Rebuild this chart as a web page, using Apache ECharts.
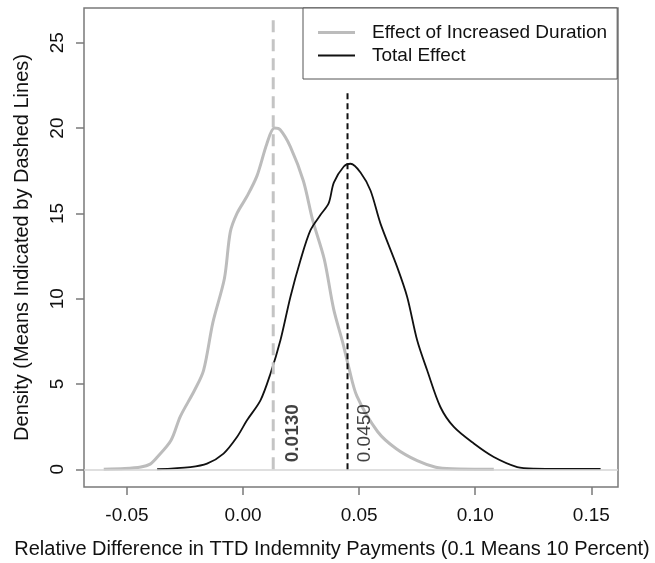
<!DOCTYPE html>
<html>
<head>
<meta charset="utf-8">
<title>Density of relative difference</title>
<script src="https://cdn.jsdelivr.net/npm/echarts@6/dist/echarts.min.js"></script>
<style>
  html, body { margin: 0; padding: 0; background: #fff; }
  #chart { width: 655px; height: 563px; }
</style>
</head>
<body>
<div id="chart"></div>
<script>
// Effect of Increased Duration (grey curve)
const durationX = [-0.060, -0.051, -0.044, -0.040, -0.037, -0.031, -0.027, -0.021, -0.017, -0.013,
  -0.008, -0.0055, -0.0026, 0.0017, 0.006, 0.0103, 0.0135, 0.016, 0.0204, 0.026,
  0.030, 0.035, 0.039, 0.043, 0.0455, 0.049, 0.058, 0.066, 0.075, 0.083, 0.090, 0.108];
const durationY = [0.00, 0.04, 0.13, 0.30, 0.70, 1.70, 3.1, 4.6, 5.8, 8.6,
  11.2, 13.9, 15.0, 16.0, 17.2, 19.1, 20.0, 19.9, 18.9, 16.9,
  14.6, 12.3, 9.4, 7.4, 6.0, 4.3, 2.2, 1.2, 0.5, 0.12, 0.03, 0.0];

// Total Effect (black curve)
const totalX = [-0.037, -0.0227, -0.0155, -0.0084, -0.0026, 0.0017, 0.0075, 0.0118, 0.0161, 0.0204,
  0.0247, 0.029, 0.0333, 0.0369, 0.0391, 0.0434, 0.0463, 0.0506, 0.0549, 0.0592,
  0.0664, 0.0707, 0.075, 0.0793, 0.085, 0.0908, 0.0994, 0.108, 0.1181, 0.1253, 0.154];
const totalY = [0.0, 0.13, 0.33, 0.92, 1.89, 2.87, 4.04, 5.6, 7.56, 10.1,
  12.24, 14.0, 14.9, 15.6, 16.8, 17.75, 17.91, 17.4, 16.34, 14.4,
  11.85, 10.1, 7.56, 5.8, 3.65, 2.48, 1.51, 0.72, 0.13, 0.04, 0.02];

// means, shown as dashed lines
const meanDuration = 0.0130;
const meanTotal = 0.0450;
const meanLabels = ['0.0130', '0.0450'];

const xTicks = [-0.05, 0, 0.05, 0.10, 0.15];
const yTicks = [0, 5, 10, 15, 20, 25];

const font = "'Liberation Sans', Arial, Helvetica, sans-serif";
const zip = (xs, ys) => xs.map((x, i) => [x, ys[i]]);

const chart = echarts.init(document.getElementById('chart'));

const option = {
  animation: false,
  backgroundColor: '#fff',
  textStyle: { fontFamily: font },
  grid: {
    left: 84, top: 8, right: 37, bottom: 76,
    show: true,
    borderColor: '#7a7a7a',
    borderWidth: 1.5,
    containLabel: false,
    outerBoundsMode: 'none'
  },
  legend: {
    orient: 'vertical',
    left: 303, top: 8,
    padding: [15, 10, 14, 15],
    itemWidth: 37, itemHeight: 18, itemGap: 4,
    borderColor: '#555', borderWidth: 1,
    backgroundColor: '#fff',
    textStyle: { fontSize: 19, color: '#111', fontFamily: font, padding: [0, 0, 0, 12] },
    data: [
      { name: 'Effect of Increased Duration', icon: 'path://M0,0 H37 V3 H0 Z' },
      { name: 'Total Effect', icon: 'path://M0,0 H37 V2 H0 Z' }
    ]
  },
  xAxis: {
    type: 'value',
    min: -0.0685, max: 0.1615,
    name: 'Relative Difference in TTD Indemnity Payments (0.1 Means 10 Percent)',
    nameLocation: 'middle', nameGap: 52,
    // the title sits a little left of the plot's centre
    nameTextStyle: { fontSize: 20, color: '#111', padding: [0, 38, 0, 0] },
    axisLine: { show: false, onZero: false },
    splitLine: { show: false },
    axisTick: { show: true, length: 8, customValues: xTicks, lineStyle: { color: '#7a7a7a', width: 1.5 } },
    axisLabel: {
      customValues: xTicks, fontSize: 19, color: '#111', margin: 19,
      formatter: v => v.toFixed(2)
    }
  },
  yAxis: {
    type: 'value',
    min: -1.04, max: 27.04,
    name: 'Density (Means Indicated by Dashed Lines)',
    nameLocation: 'middle', nameGap: 52, nameRotate: 90,
    nameTextStyle: { fontSize: 20, color: '#111' },
    axisLine: { show: false, onZero: false },
    splitLine: { show: false },
    axisTick: { show: true, length: 8, customValues: yTicks, lineStyle: { color: '#7a7a7a', width: 1.5 } },
    axisLabel: { customValues: yTicks, fontSize: 19, color: '#111', margin: 17, rotate: 90 }
  },
  series: [
    {
      name: 'Effect of Increased Duration',
      type: 'line',
      data: zip(durationX, durationY),
      smooth: 0.3,
      symbol: 'none',
      z: 3,
      lineStyle: { color: '#bcbcbc', width: 3 },
      itemStyle: { color: '#bcbcbc' },
      markLine: {
        silent: true,
        symbol: 'none',
        label: { show: false },
        lineStyle: { color: '#d4d4d4', width: 1.5, type: 'solid' },
        data: [{ yAxis: 0 }]
      }
    },
    {
      name: 'Total Effect',
      type: 'line',
      data: zip(totalX, totalY),
      smooth: 0.3,
      symbol: 'none',
      z: 4,
      lineStyle: { color: '#111', width: 1.8 },
      itemStyle: { color: '#111' }
    },
    {
      name: 'mean duration',
      type: 'line',
      data: [[meanDuration, 0], [meanDuration, 26.7]],
      symbol: 'none',
      z: 5,
      lineStyle: { color: '#c4c4c4', width: 3, type: [12, 7] }
    },
    {
      name: 'mean total',
      type: 'line',
      data: [[meanTotal, 0], [meanTotal, 22.1]],
      symbol: 'none',
      z: 5,
      lineStyle: { color: '#111', width: 2, type: [6, 4] }
    },
    {
      name: 'mean labels',
      type: 'scatter',
      symbolSize: 0,
      z: 6,
      data: [
        { value: [meanDuration, 0], label: { fontWeight: 'bold', position: [20, -7] } },
        { value: [meanTotal, 0], label: { fontWeight: 'normal', position: [17, -7] } }
      ],
      label: {
        show: true,
        rotate: 90,
        align: 'left',
        verticalAlign: 'middle',
        fontSize: 19,
        color: '#111',
        formatter: p => meanLabels[p.dataIndex]
      }
    }
  ]
};

chart.setOption(option);
</script>
</body>
</html>
